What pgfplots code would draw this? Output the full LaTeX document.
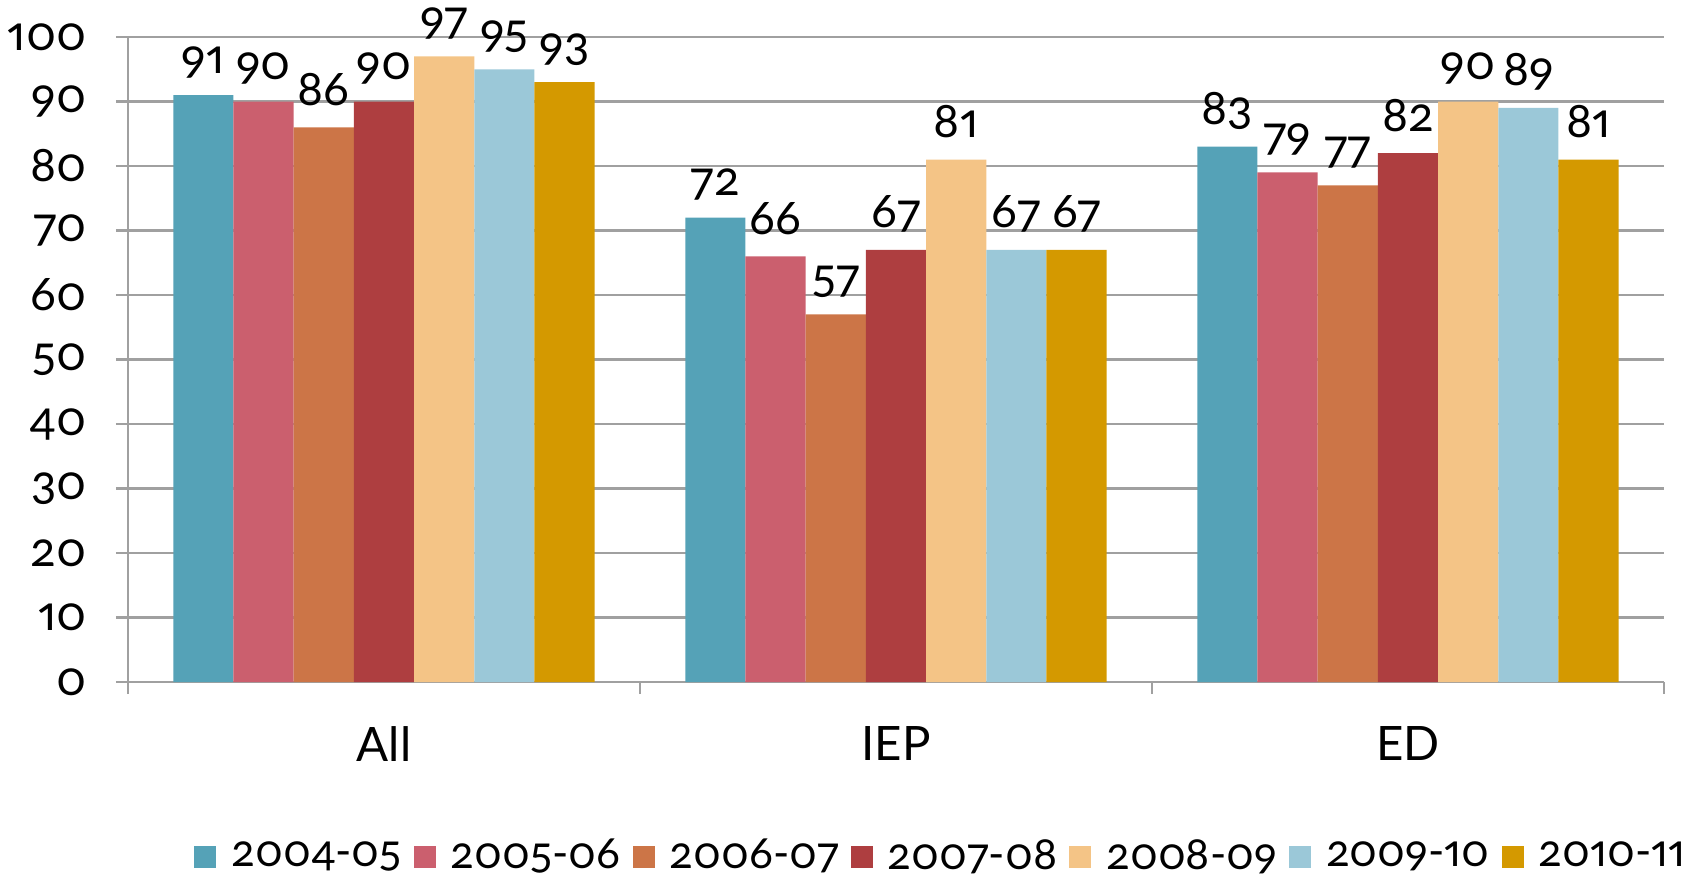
\documentclass[border=0pt]{standalone}
\usepackage{fontspec}
\setmainfont{Lato}[Numbers={OldStyle,Proportional}]
\usepackage{pgfplots}
\pgfplotsset{compat=1.18}
\definecolor{cA}{HTML}{55A2B7}
\definecolor{cB}{HTML}{CB5F6E}
\definecolor{cC}{HTML}{CC7547}
\definecolor{cD}{HTML}{AE3E40}
\definecolor{cE}{HTML}{F4C486}
\definecolor{cF}{HTML}{9BC8D8}
\definecolor{cG}{HTML}{D49900}
\definecolor{gridgray}{HTML}{A0A0A0}
\newcommand{\lbl}{\fontsize{13.5}{15}\selectfont}
\newcommand{\leg}{\fontsize{12.5}{14}\selectfont}
\begin{document}
\begin{tikzpicture}
\useasboundingbox (-1.28,-2.04) rectangle (15.74,6.82);
\begin{axis}[
  scale only axis,
  width=15.36cm, height=6.45cm,
  ybar=0pt, bar width=0.602cm,
  xmin=-0.5, xmax=2.5,
  ymin=0, ymax=100,
  xtick={-0.5,0.5,1.5,2.5},
  x tick label as interval,
  xticklabels={All,IEP,ED},
  ytick={0,10,...,100},
  axis lines*=left,
  axis line style={gridgray, line width=0.6pt},
  ymajorgrids,
  grid style={gridgray, line width=0.6pt},
  tick align=outside,
  major tick length=0.12cm,
  tick style={gridgray, line width=0.6pt},
  /pgf/number format/assume math mode=true,
  tick label style={font=\lbl, black},
  xticklabel style={yshift=-0.2cm},
  yticklabel style={xshift=-0.17cm},
  nodes near coords,
  every node near coord/.append style={font=\lbl, black, anchor=base, yshift=0.22cm},
  legend style={at={(0.531,-0.271)}, anchor=center, legend columns=7, draw=none,
    font=\leg,
    /tikz/every odd column/.append style={column sep=0.08cm},
    /tikz/every even column/.append style={column sep=0.05cm}},
  legend image code/.code={\fill[#1] (0cm,-0.11cm) rectangle (0.22cm,0.11cm);},
]
\addplot[fill=cA, draw=none] coordinates {(0,91) (1,72) (2,83)};
\addplot[fill=cB, draw=none] coordinates {(0,90) (1,66) (2,79)};
\addplot[fill=cC, draw=none] coordinates {(0,86) (1,57) (2,77)};
\addplot[fill=cD, draw=none] coordinates {(0,90) (1,67) (2,82)};
\addplot[fill=cE, draw=none] coordinates {(0,97) (1,81) (2,90)};
\addplot[fill=cF, draw=none] coordinates {(0,95) (1,67) (2,89)};
\addplot[fill=cG, draw=none] coordinates {(0,93) (1,67) (2,81)};
\legend{2004-05,2005-06,2006-07,2007-08,2008-09,2009-10,2010-11}
\end{axis}
\end{tikzpicture}
\end{document}
